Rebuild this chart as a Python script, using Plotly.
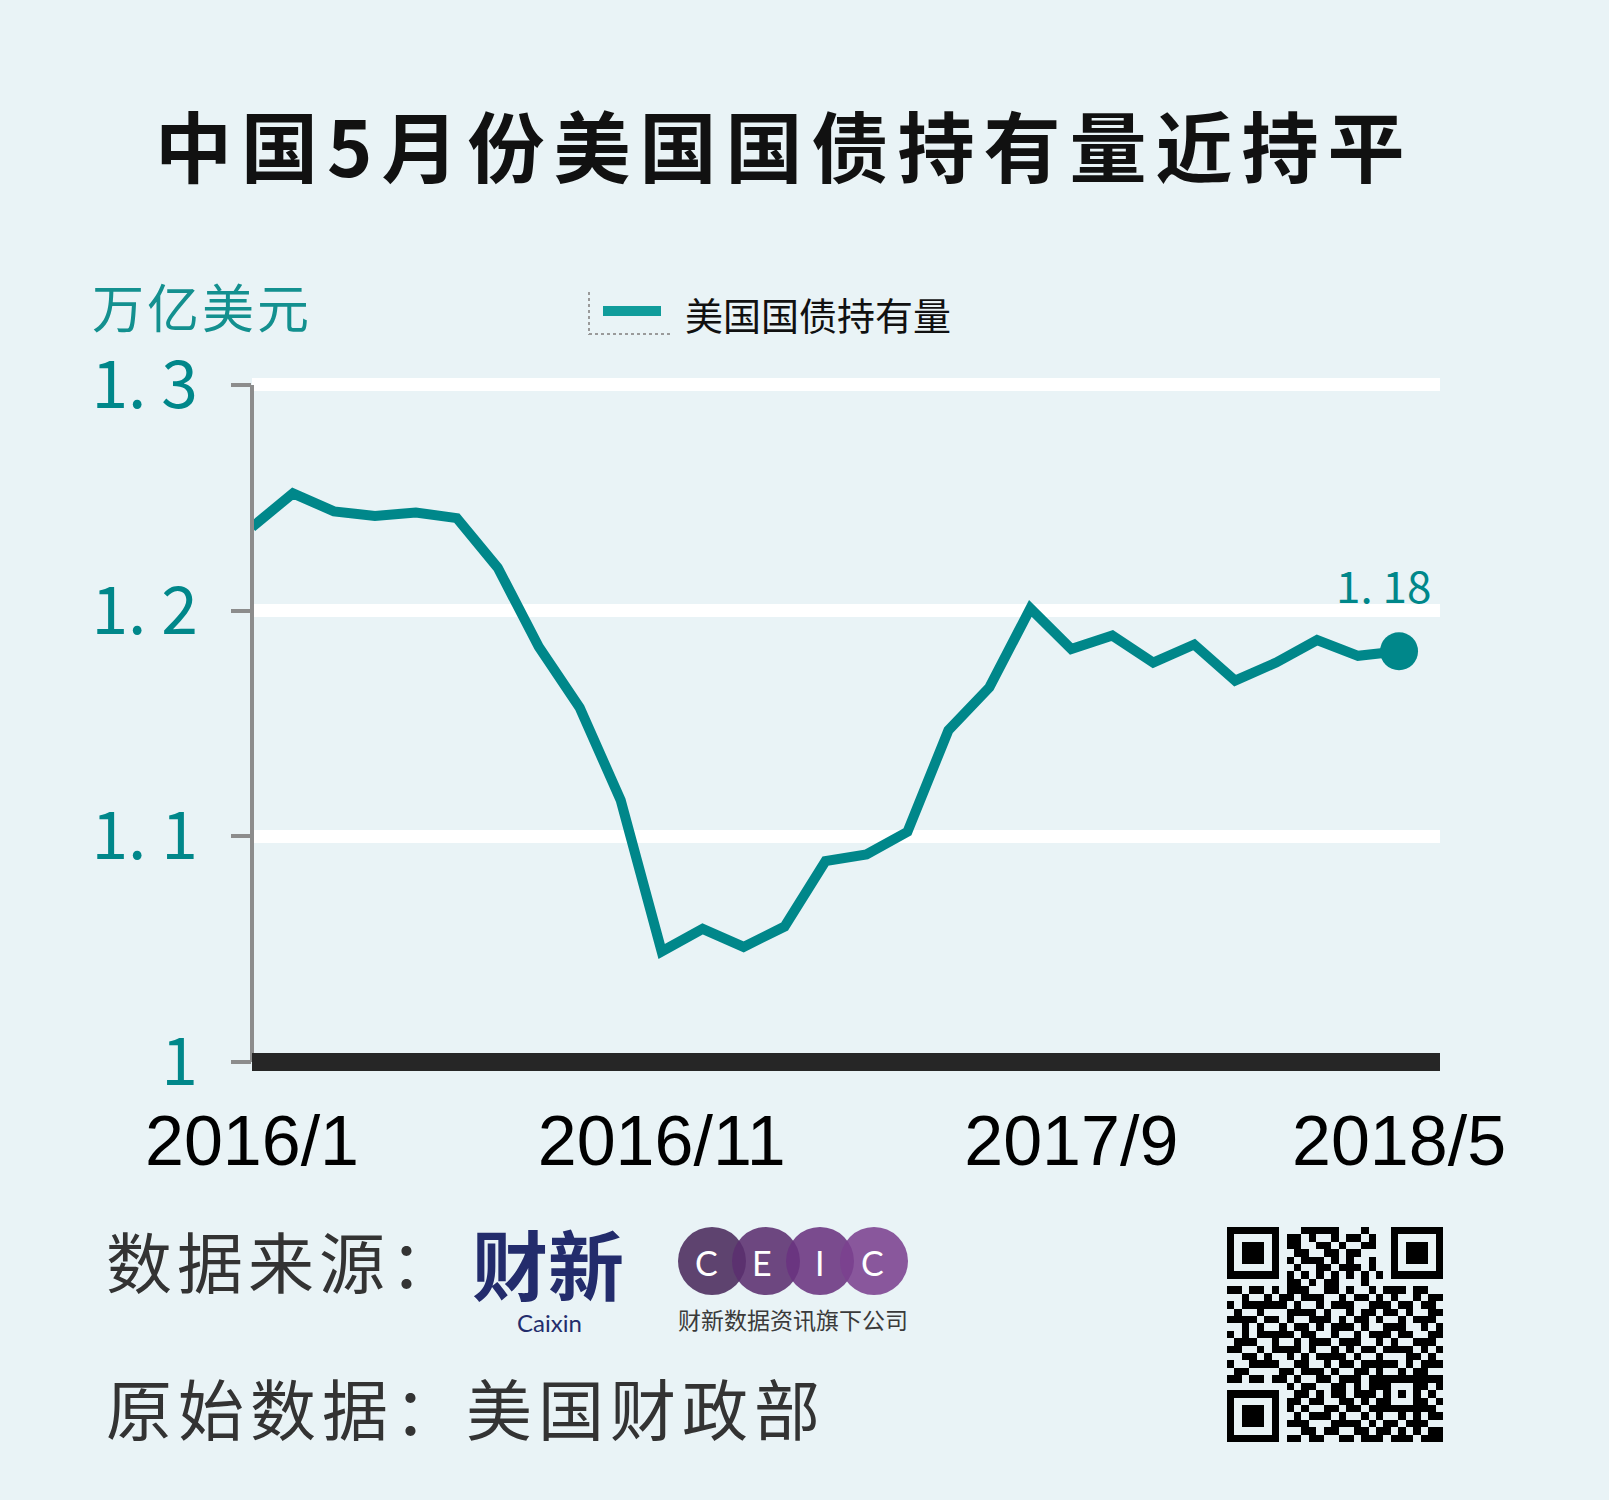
import plotly.graph_objects as go

# ---------------- data ----------------
months = ["2016/1", "2016/2", "2016/3", "2016/4", "2016/5", "2016/6", "2016/7", "2016/8",
          "2016/9", "2016/10", "2016/11", "2016/12", "2017/1", "2017/2", "2017/3", "2017/4",
          "2017/5", "2017/6", "2017/7", "2017/8", "2017/9", "2017/10", "2017/11", "2017/12",
          "2018/1", "2018/2", "2018/3", "2018/4", "2018/5"]
holdings = [1.237, 1.252, 1.244, 1.242, 1.2435, 1.241, 1.219, 1.184, 1.157, 1.116,
            1.049, 1.059, 1.051, 1.060, 1.089, 1.092, 1.102, 1.147, 1.166, 1.201,
            1.183, 1.189, 1.177, 1.185, 1.169, 1.177, 1.187, 1.180, 1.182]
x_tick_labels = ["2016/1", "2016/11", "2017/9", "2018/5"]
y_tick_values = [1.0, 1.1, 1.2, 1.3]
y_tick_labels = ["1", "1. 1", "1. 2", "1. 3"]
series_name = "美国国债持有量"
title_text = "中国5月份美国国债持有量近持平"
unit_text = "万亿美元"
source_text = "数据来源："
origin_text = "原始数据：美国财政部"
ceic_letters = ["C", "E", "I", "C"]
ceic_sub = "财新数据资讯旗下公司"
qr_rows = [
    "1111111" + "0" + "0011111000100" + "0" + "1111111",
    "1000001" + "0" + "1101001011010" + "0" + "1000001",
    "1011101" + "0" + "1100110100110" + "0" + "1011101",
    "1011101" + "0" + "0110011011000" + "0" + "1011101",
    "1011101" + "0" + "1011101010010" + "0" + "1011101",
    "1000001" + "0" + "0100110111010" + "0" + "1000001",
    "1111111" + "0" + "1010101010101" + "0" + "1111111",
    "0000000" + "0" + "1101011000100" + "0" + "0000000",
    "11011010111001101001011101100",
    "00100101101110010110101001011",
    "10111111010010111001110110110",
    "01001000111101001011011010011",
    "11110110100111010110100101110",
    "00101001011010111010011100101",
    "10101111101100100101110110011",
    "01110010010111011100101001110",
    "11001011110100101011011110101",
    "00110100101011110100100011010",
    "10011110011001011011111010111",
    "01100001101110100110100101100",
    "11011011010011011101111111111",
    "00000000" + "1011001101011" + "10001101",
    "1111111" + "0" + "011010110111010101010",
    "1000001" + "0" + "110110011010110001101",
    "1011101" + "0" + "101001101101111111110",
    "1011101" + "0" + "010111010010100101011",
    "1011101" + "0" + "111000111101011011100",
    "1000001" + "0" + "001101100110110101011",
    "1111111" + "0" + "110110011011101110111",
]

# ---------------- styling ----------------
W, H = 1609, 1500
BG = "#e9f3f6"
TEAL = "#00878a"
TEAL_LEG = "#109c9b"
CJK = "Noto Sans CJK SC"
LAT = "Liberation Sans"


def px(x):
    return x / W


def py(y):
    return 1 - y / H


fig = go.Figure()

fig.add_trace(go.Scatter(
    x=months, y=holdings, mode="lines", name=series_name,
    line=dict(color=TEAL, width=10, shape="linear"),
    hoverinfo="skip", showlegend=False, cliponaxis=True,
))
fig.add_trace(go.Scatter(
    x=[months[-1]], y=[holdings[-1]], mode="markers",
    marker=dict(color=TEAL, size=38), hoverinfo="skip", showlegend=False,
    cliponaxis=False,
))

# QR code style block (decorative)
qr_z = [[int(c) for c in (r[:29].ljust(29, "0"))] for r in qr_rows]
fig.add_trace(go.Heatmap(
    z=qr_z, xaxis="x2", yaxis="y2", colorscale=[[0, BG], [1, "#000000"]],
    zmin=0, zmax=1, showscale=False, hoverinfo="skip",
))

# y range such that 1.3 -> 385px and 1.0 -> 1062px
y_top_px, y_bot_px = 385.0, 1062.0
ppu = (y_bot_px - y_top_px) / 0.3
r_lo, r_hi = 0.992, 1.32
dom_top = y_top_px - (r_hi - 1.3) * ppu
dom_bot = y_bot_px + (1.0 - r_lo) * ppu

fig.update_layout(
    width=W, height=H, autosize=False,
    margin=dict(l=0, r=0, t=0, b=0, autoexpand=False),
    paper_bgcolor=BG, plot_bgcolor=BG,
    xaxis=dict(
        domain=[px(252), px(1440)], type="category", automargin=False,
        range=[0, 29], showgrid=False, zeroline=False, showline=False,
        tickmode="array", tickvals=x_tick_labels, ticktext=x_tick_labels,
        ticks="", tickfont=dict(family=LAT, size=70, color="#000000"),
        ticklabelstandoff=14,
    ),
    yaxis=dict(
        domain=[py(dom_bot), py(dom_top)], range=[r_lo, r_hi], automargin=False,
        showgrid=True, gridcolor="#ffffff", gridwidth=13, zeroline=False,
        showline=False, tickmode="array", tickvals=y_tick_values,
        ticktext=y_tick_labels, ticks="outside", ticklen=20, tickwidth=4,
        tickcolor="#8c8c8c", tickfont=dict(family=CJK, size=66, color=TEAL),
        ticklabelstandoff=20,
    ),
    xaxis2=dict(domain=[px(1227), px(1443)], range=[-0.5, 28.5], visible=False,
                anchor="y2", fixedrange=True, automargin=False),
    yaxis2=dict(domain=[py(1442), py(1227)], range=[28.5, -0.5], visible=False,
                anchor="x2", fixedrange=True, automargin=False),
    showlegend=False,
)

shapes = []
# y axis vertical line (from 1.0 to 1.3)
shapes.append(dict(type="line", xref="x domain", yref="y", x0=0, x1=0, y0=1.0, y1=1.3,
                   line=dict(color="#8c8c8c", width=4), layer="above"))
# baseline
shapes.append(dict(type="line", xref="x domain", yref="y", x0=0, x1=1, y0=1.0, y1=1.0,
                   line=dict(color="#262626", width=18), layer="above"))
# legend decorations
shapes.append(dict(type="line", xref="paper", yref="paper", x0=px(589), x1=px(589),
                   y0=py(292), y1=py(335), line=dict(color="#9a9a9a", width=2, dash="dot")))
shapes.append(dict(type="line", xref="paper", yref="paper", x0=px(589), x1=px(671),
                   y0=py(334), y1=py(334), line=dict(color="#9a9a9a", width=2, dash="dot")))
shapes.append(dict(type="line", xref="paper", yref="paper", x0=px(603), x1=px(661),
                   y0=py(311), y1=py(311), line=dict(color=TEAL_LEG, width=10)))
# CEIC circles
ceic_cx = [712, 766, 820, 874]
ceic_cols = ["#4a2a5c", "#5b2f6f", "#6a3380", "#7b4190"]
for cx, col in zip(ceic_cx, ceic_cols):
    shapes.append(dict(type="circle", xref="paper", yref="paper",
                       x0=px(cx - 34), x1=px(cx + 34), y0=py(1295), y1=py(1227),
                       fillcolor=col, opacity=0.88, line=dict(width=0)))
fig.update_layout(shapes=shapes)

ann = []
ann.append(dict(text='<span style="letter-spacing:9px">' + title_text + '</span>',
                x=px(784), y=py(143), xref="paper", yref="paper",
                xanchor="center", yanchor="middle", showarrow=False,
                font=dict(family=CJK, size=77, color="#111111", weight="bold")))
ann.append(dict(text='<span style="letter-spacing:3px">' + unit_text + '</span>',
                x=px(90), y=py(306), xref="paper", yref="paper",
                xanchor="left", yanchor="middle", showarrow=False,
                font=dict(family=CJK, size=52, color="#13908f")))
ann.append(dict(text=series_name, x=px(683), y=py(313), xref="paper", yref="paper",
                xanchor="left", yanchor="middle", showarrow=False,
                font=dict(family=CJK, size=38, color="#111111")))
end_label = f"{holdings[-1]:.2f}".replace(".", ". ")
ann.append(dict(text=end_label, x=months[-1], y=holdings[-1], xref="x", yref="y",
                xanchor="center", yanchor="middle", xshift=-16, yshift=67,
                showarrow=False, font=dict(family=CJK, size=44, color=TEAL)))
ann.append(dict(text='<span style="letter-spacing:5px">' + source_text + '</span>',
                x=px(104), y=py(1259), xref="paper", yref="paper",
                xanchor="left", yanchor="middle", showarrow=False,
                font=dict(family=CJK, size=66, color="#333333")))
ann.append(dict(text='<span style="letter-spacing:6px">' + origin_text + '</span>',
                x=px(104), y=py(1406), xref="paper", yref="paper",
                xanchor="left", yanchor="middle", showarrow=False,
                font=dict(family=CJK, size=66, color="#333333")))
# Caixin logo
ann.append(dict(text="财新", x=px(548), y=py(1262), xref="paper", yref="paper",
                xanchor="center", yanchor="middle", showarrow=False,
                font=dict(family=CJK, size=76, color="#232c6c", weight="bold")))
ann.append(dict(text="Caixin", x=px(549), y=py(1322), xref="paper", yref="paper",
                xanchor="center", yanchor="middle", showarrow=False,
                font=dict(family="Lato", size=24, color="#232c6c")))
# CEIC logo letters and caption
ceic_lx = [706, 762, 820, 872]
for lx, letter in zip(ceic_lx, ceic_letters):
    ann.append(dict(text=letter, x=px(lx), y=py(1262), xref="paper", yref="paper",
                    xanchor="center", yanchor="middle", showarrow=False,
                    font=dict(family="Lato", size=34, color="#ffffff")))
ann.append(dict(text=ceic_sub, x=px(793), y=py(1319), xref="paper", yref="paper",
                xanchor="center", yanchor="middle", showarrow=False,
                font=dict(family=CJK, size=23, color="#3a3a3a")))
fig.update_layout(annotations=ann)

fig.write_html("out.html")
